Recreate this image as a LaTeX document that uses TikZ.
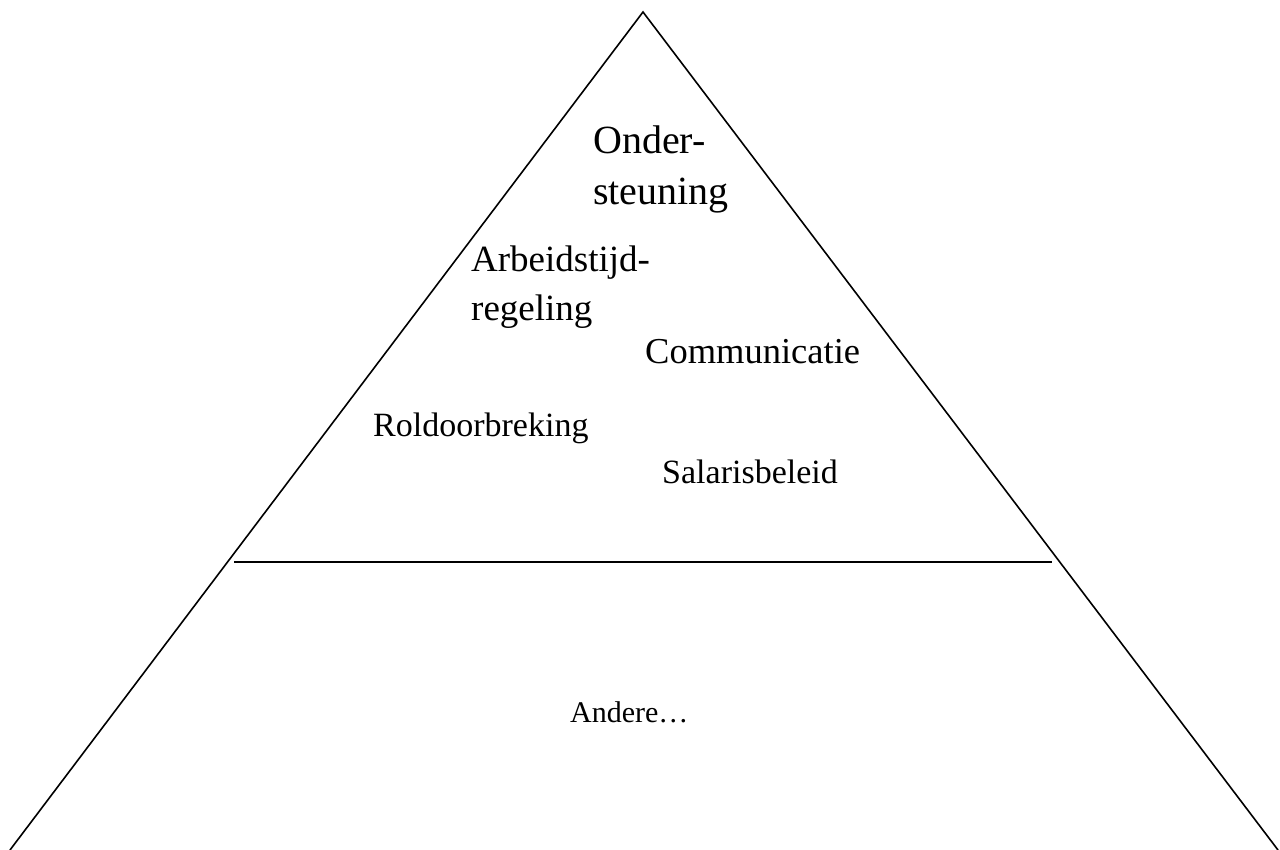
\documentclass[tikz,border=0pt]{standalone}
\usepackage{fontspec}
\setmainfont{Liberation Serif}
\begin{document}
\begin{tikzpicture}[x=1pt,y=-1pt,
  edge/.style={line width=1.6pt,line cap=round},
  lbl/.style={inner sep=0pt,anchor=base west},
  fA/.style={font=\fontsize{40}{46}\selectfont},
  fB/.style={font=\fontsize{37}{43}\selectfont},
  fC/.style={font=\fontsize{36.5}{42}\selectfont},
  fD/.style={font=\fontsize{34}{40}\selectfont},
  fE/.style={font=\fontsize{30}{36}\selectfont}]
\useasboundingbox (0,0) rectangle (1280,850);
\coordinate (apex) at (643,12);
\coordinate (bl) at (10,850);
\coordinate (br) at (1278,850);
\coordinate (hl) at (234,562);
\coordinate (hr) at (1052,562);
\draw[edge] (bl) -- (apex) -- (br);
\draw[edge,line cap=butt] (hl) -- (hr);
\node[lbl,fA] (ond1) at (593,154) {Onder-};
\node[lbl,fA] (ond2) at (593,205) {steuning};
\node[lbl,fB] (arb1) at (471,272) {Arbeidstijd-};
\node[lbl,fB] (arb2) at (471,320) {regeling};
\node[lbl,fC] (com) at (645,363) {Communicatie};
\node[lbl,fD] (rol) at (373,436) {Roldoorbreking};
\node[lbl,fD] (sal) at (662,483) {Salarisbeleid};
\node[lbl,fE] (and) at (570,722) {Andere…};
\end{tikzpicture}
\end{document}
